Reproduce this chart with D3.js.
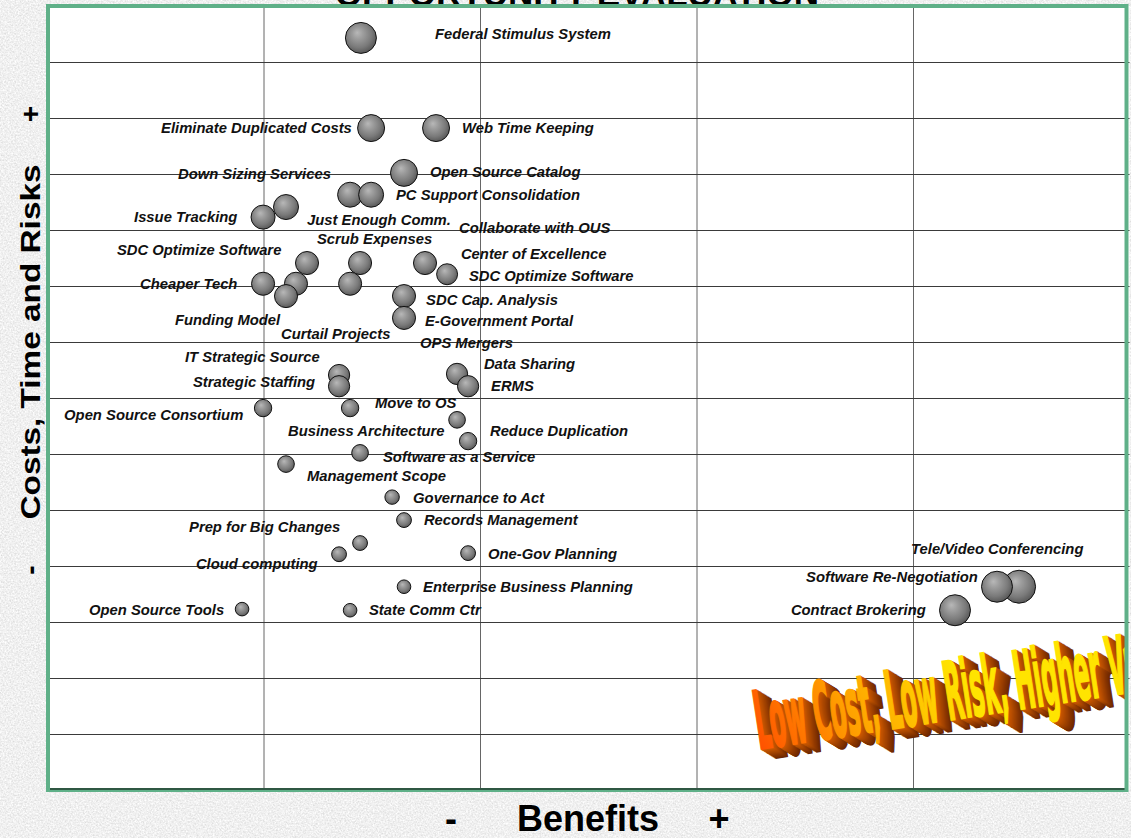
<!DOCTYPE html>
<html><head><meta charset="utf-8">
<script src="https://cdn.jsdelivr.net/npm/d3@7/dist/d3.min.js"></script>
<style>html,body{margin:0;padding:0;overflow:hidden;background:#dcdcdc}</style>
</head><body>
<script>
// ---- data ----
const projects = ["Tele/Video Conferencing","Federal Stimulus System","Eliminate Duplicated Costs","Web Time Keeping","Open Source Catalog",
  "Just Enough Comm.","PC Support Consolidation","Down Sizing Services","Issue Tracking","SDC Optimize Software","Scrub Expenses",
  "Center of Excellence","SDC Optimize Software (2)","Cheaper Tech","Collaborate with OUS","Funding Model","Curtail Projects",
  "SDC Cap. Analysis","E-Government Portal","IT Strategic Source","Strategic Staffing","Data Sharing","ERMS",
  "Open Source Consortium","Move to OS","Business Architecture","Reduce Duplication","Software as a Service","Management Scope",
  "Governance to Act","Records Management","Prep for Big Changes","Cloud computing","One-Gov Planning",
  "Enterprise Business Planning","Open Source Tools","State Comm Ctr","Software Re-Negotiation","Contract Brokering"];
const benefit = [4.490,1.450,1.497,1.797,1.649,1.400,1.497,1.104,0.998,1.201,1.446,1.746,1.848,0.998,1.150,1.104,1.400,
  1.649,1.649,1.349,1.349,1.894,1.945,0.998,1.400,1.894,1.945,1.446,1.104,1.594,1.649,1.446,1.349,1.945,1.649,0.901,1.400,4.388,4.194];
const cost = [3.63,13.43,11.82,11.82,11.02,10.63,10.63,10.41,10.23,9.41,9.41,9.41,9.21,9.04,9.04,8.82,9.04,
  8.82,8.43,7.41,7.21,7.43,7.21,6.82,6.82,6.61,6.23,6.02,5.82,5.23,4.82,4.41,4.21,4.23,3.63,3.23,3.21,3.63,3.21];
const size = [9.4,8.3,6.3,6.3,6.3,5.4,5.4,5.4,5.0,4.6,4.6,4.6,3.8,4.6,4.6,4.6,4.6,
  4.6,4.6,3.9,3.9,3.9,3.9,2.6,2.6,2.4,2.6,2.4,2.4,1.8,1.9,1.9,1.9,1.9,1.6,1.6,1.6,8.3,8.3];

const labelText = ["Federal Stimulus System","Eliminate Duplicated Costs","Web Time Keeping","Down Sizing Services",
  "Open Source Catalog","PC Support Consolidation","Issue Tracking","Just Enough Comm.","Collaborate with OUS",
  "Scrub Expenses","SDC Optimize Software","Center of Excellence","SDC Optimize Software","Cheaper Tech",
  "SDC Cap. Analysis","Funding Model","E-Government Portal","Curtail Projects","OPS Mergers","IT Strategic Source",
  "Data Sharing","Strategic Staffing","ERMS","Move to OS","Open Source Consortium","Business Architecture",
  "Reduce Duplication","Software as a Service","Management Scope","Governance to Act","Records Management",
  "Prep for Big Changes","One-Gov Planning","Cloud computing","Enterprise Business Planning","Open Source Tools",
  "State Comm Ctr","Tele/Video Conferencing","Software Re-Negotiation","Contract Brokering"];
const labelX = [1.792,0.527,1.917,0.605,1.769,1.612,0.402,1.201,1.903,1.247,0.323,1.912,1.949,0.430,1.751,0.591,1.746,
  1.081,1.723,0.637,2.018,0.674,2.051,1.515,0.079,1.113,2.046,1.552,1.201,1.691,1.741,0.656,2.037,0.688,1.737,0.194,
  1.487,3.991,3.506,3.436];
const labelY = [13.50,11.82,11.82,11.00,11.04,10.63,10.23,10.18,10.04,9.84,9.64,9.57,9.18,9.04,8.75,8.39,8.38,
  8.14,7.98,7.73,7.61,7.29,7.21,6.91,6.70,6.41,6.41,5.95,5.61,5.21,4.82,4.70,4.21,4.04,3.63,3.21,3.21,4.30,3.80,3.21];

const xGrid = [1,2,3,4];
const yGrid = [1,2,3,4,5,6,7,8,9,10,11,12,13];
const title = "OPPORTUNITY EVALUATION";
const xTitle = "Benefits";
const yTitle = "Costs, Time and Risks";
const banner = "Low Cost, Low Risk, Higher Value";

// ---- drawing ----
const W = 1131, H = 838;
const svg = d3.select("body").append("svg").attr("width", W).attr("height", H);
const defs = svg.append("defs");

const stone = defs.append("filter").attr("id","stone").attr("x",0).attr("y",0).attr("width","100%").attr("height","100%");
stone.append("feTurbulence").attr("type","fractalNoise").attr("baseFrequency",0.6).attr("numOctaves",3).attr("seed",7);
stone.append("feColorMatrix").attr("type","matrix")
  .attr("values","0.42 0 0 0 0.66  0.42 0 0 0 0.66  0.42 0 0 0 0.66  0 0 0 0 1");

const ball = defs.append("radialGradient").attr("id","ball").attr("cx","0.45").attr("cy","0.42").attr("r","0.6")
  .attr("fx","0.38").attr("fy","0.33");
[[0,"#b8b8b8"],[0.3,"#9c9c9c"],[0.7,"#7a7a7a"],[1,"#555"]].forEach(s=>ball.append("stop").attr("offset",s[0]).attr("stop-color",s[1]));

const x = d3.scaleLinear().domain([0,5]).range([47,1129.5]);
const y = d3.scaleLinear().domain([0,14]).range([790,6]);
const r = d3.scaleSqrt().domain([0,10]).range([0,17]);

svg.append("rect").attr("width",W).attr("height",H).attr("filter","url(#stone)");

// title (mostly hidden behind plot area)
svg.append("text").attr("x",577).attr("y",6).attr("text-anchor","middle")
  .attr("font-family","Liberation Sans, Arial, sans-serif").attr("font-weight","bold").attr("font-size",35)
  .attr("fill","#000").text(title);

// plot area
svg.append("rect").attr("x",x(0)).attr("y",y(14)).attr("width",x(5)-x(0)).attr("height",y(0)-y(14)).attr("fill","#fff");

const clip = defs.append("clipPath").attr("id","plotclip");
clip.append("rect").attr("x",x(0)+2).attr("y",y(14)).attr("width",x(5)-x(0)-6).attr("height",y(0)-y(14));

const g = svg.append("g");
const xAxis = d3.axisBottom(x).tickValues(xGrid).tickSize(-(y(0)-y(14))).tickFormat("");
g.append("g").attr("transform",`translate(0,${y(0)})`).call(xAxis)
  .call(a=>a.select(".domain").remove())
  .call(a=>a.selectAll("line").attr("stroke","#666").attr("stroke-width",1));
const yAxis = d3.axisLeft(y).tickValues(yGrid).tickSize(-(x(5)-x(0))).tickFormat("");
g.append("g").attr("transform",`translate(${x(0)},0)`).call(yAxis)
  .call(a=>a.select(".domain").remove())
  .call(a=>a.selectAll("line").attr("stroke","#3a3a3a").attr("stroke-width",1.2));

// banner (WordArt style)
const bGrad = defs.append("linearGradient").attr("id","bgrad").attr("gradientUnits","userSpaceOnUse")
  .attr("x1",0).attr("y1",0).attr("x2",200).attr("y2",-70);
[[0,"#ff5000"],[0.45,"#ffa000"],[1,"#ffe400"]].forEach(s=>bGrad.append("stop").attr("offset",s[0]).attr("stop-color",s[1]));
const bg = svg.append("g").attr("clip-path","url(#plotclip)");
const bt = bg.append("g").attr("transform","translate(759,749) rotate(-8.7)");
const depth = d3.range(14,0,-1);
const sideCol = d3.scaleLinear().domain([14,1]).range(["#6a2600","#c85800"]);
const bFont = "Liberation Sans Narrow, DejaVu Sans Condensed, sans-serif";
bt.selectAll("text.side").data(depth).join("text").attr("class","side")
  .attr("x",d=>d*0.95).attr("y",d=>d*0.8)
  .attr("font-family",bFont).attr("font-weight","bold")
  .attr("font-size",80).attr("textLength",428).attr("lengthAdjust","spacingAndGlyphs")
  .attr("fill",d=>sideCol(d)).attr("stroke",d=>sideCol(d)).attr("stroke-width",2.5).text(banner);
bt.append("text").attr("x",0).attr("y",0)
  .attr("font-family",bFont).attr("font-weight","bold")
  .attr("font-size",80).attr("textLength",428).attr("lengthAdjust","spacingAndGlyphs")
  .attr("fill","url(#bgrad)").attr("stroke","url(#bgrad)").attr("stroke-width",2.5).text(banner);

// bubbles
const idx = d3.range(projects.length);
svg.append("g").selectAll("circle").data(idx).join("circle")
  .attr("cx",i=>x(benefit[i])).attr("cy",i=>y(cost[i])).attr("r",i=>r(size[i]))
  .attr("fill","url(#ball)").attr("stroke","#111").attr("stroke-width",1);

// labels
svg.append("g").selectAll("text").data(d3.range(labelText.length)).join("text")
  .attr("x",i=>x(labelX[i])).attr("y",i=>y(labelY[i])).attr("dy","0.35em")
  .attr("font-family","Liberation Sans, Arial, sans-serif").attr("font-weight","bold").attr("font-style","italic")
  .attr("font-size",14.8).attr("fill","#111").text(i=>labelText[i]);

// plot border
svg.append("rect").attr("x",x(0)+1).attr("y",y(14)).attr("width",x(5)-x(0)-4).attr("height",y(0)-y(14))
  .attr("fill","none").attr("stroke","#5fb088").attr("stroke-width",4);
svg.append("line").attr("x1",x(0)+3).attr("x2",x(5)-5).attr("y1",y(0)-1).attr("y2",y(0)-1)
  .attr("stroke","#1f3a2c").attr("stroke-width",1.5);

// axis titles
const axFont = "Liberation Sans, Arial, sans-serif";
svg.append("text").attr("x",588).attr("y",831).attr("text-anchor","middle")
  .attr("font-family",axFont).attr("font-weight","bold").attr("font-size",36).text(xTitle);
svg.append("text").attr("x",451).attr("y",831).attr("text-anchor","middle")
  .attr("font-family",axFont).attr("font-weight","bold").attr("font-size",36).text("-");
svg.append("text").attr("x",719).attr("y",831).attr("text-anchor","middle")
  .attr("font-family",axFont).attr("font-weight","bold").attr("font-size",36).text("+");

const yl = svg.append("g").attr("transform","translate(40,342) rotate(-90)");
yl.append("text").attr("x",0).attr("y",0).attr("text-anchor","middle")
  .attr("font-family",axFont).attr("font-weight","bold").attr("font-size",28)
  .attr("textLength",355).attr("lengthAdjust","spacingAndGlyphs").text(yTitle);
yl.append("text").attr("x",228).attr("y",0).attr("text-anchor","middle")
  .attr("font-family",axFont).attr("font-weight","bold").attr("font-size",28).text("+");
yl.append("text").attr("x",-228).attr("y",0).attr("text-anchor","middle")
  .attr("font-family",axFont).attr("font-weight","bold").attr("font-size",28).text("-");
</script>
</body></html>
